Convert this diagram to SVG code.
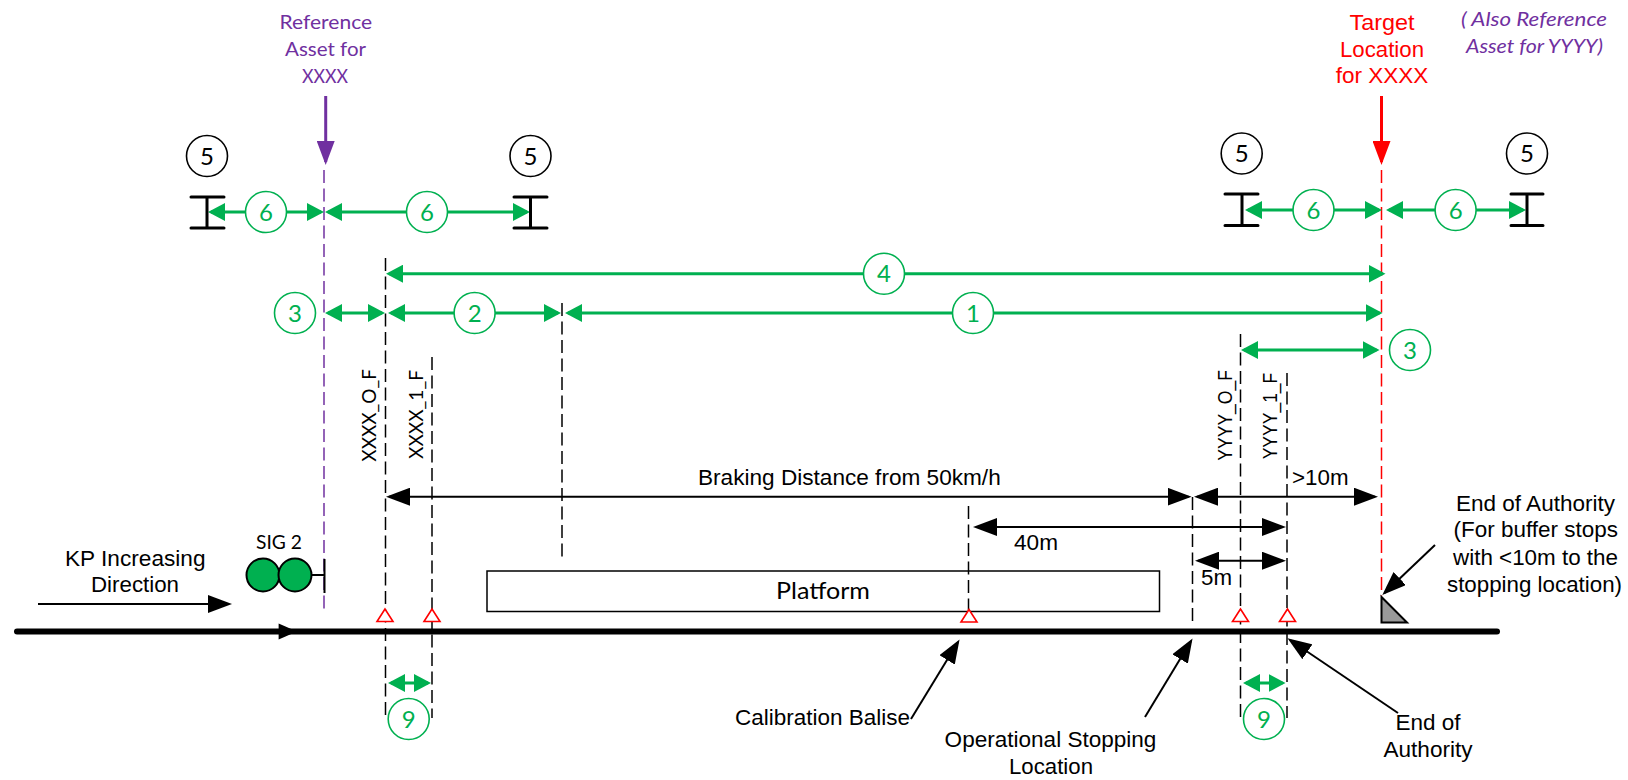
<svg xmlns="http://www.w3.org/2000/svg" width="1628" height="780" viewBox="0 0 1628 780">
<style>
.a{font-family:"Liberation Sans",Arial,sans-serif;font-size:22px;fill:#000}
.c{font-family:Lato,"Open Sans",sans-serif;font-size:20px}
.num{font-family:Lato,"Open Sans",sans-serif;font-size:24px;text-anchor:middle}
.gc{fill:#fff;stroke:#00B050;stroke-width:1.6}
.bc{fill:#fff;stroke:#000;stroke-width:1.6}
.gt{fill:#00B050}
.g{stroke:#00B050;stroke-width:3;fill:none;marker-start:url(#gh);marker-end:url(#gh)}
.b{stroke:#000;stroke-width:2;fill:none;marker-end:url(#bh)}
.bb{stroke:#000;stroke-width:2;fill:none;marker-start:url(#bh);marker-end:url(#bh)}
.d{stroke:#000;stroke-width:1.5;stroke-dasharray:13 5.5;fill:none}
.ibeam{stroke:#000;stroke-width:3;stroke-linecap:round;fill:none}
.bal{fill:#fff;stroke:#f00;stroke-width:1.6}
.pur{fill:#7030A0}
.red{fill:#f00}
</style>
<defs>
<marker id="gh" markerUnits="userSpaceOnUse" markerWidth="18" markerHeight="18" refX="14" refY="9" orient="auto-start-reverse"><path d="M0 0L17 9L0 18Z" fill="#00B050"/></marker>
<marker id="bh" markerUnits="userSpaceOnUse" markerWidth="24" markerHeight="18" refX="21" refY="9" orient="auto-start-reverse"><path d="M0 0L24 9L0 18Z" fill="#000"/></marker>
<marker id="ph" markerUnits="userSpaceOnUse" markerWidth="24" markerHeight="18" refX="21" refY="9" orient="auto"><path d="M0 0L24 9L0 18Z" fill="#7030A0"/></marker>
<marker id="rh" markerUnits="userSpaceOnUse" markerWidth="24" markerHeight="18" refX="21" refY="9" orient="auto"><path d="M0 0L24 9L0 18Z" fill="#f00"/></marker>
</defs>

<g id="platform">
<rect x="487" y="571" width="672.5" height="40.5" fill="#fff" stroke="#000" stroke-width="1.5"/>
<text class="c" x="776" y="598.5" style="font-size:23px" textLength="94" lengthAdjust="spacingAndGlyphs">Platform</text>
</g>

<g id="connectors">
<path class="d" d="M385.5 258V718M432 357V718M562 303V559M1240.5 334V718M1287 373V718M1192.5 497V624M968.5 506V610"/>
<path class="d" style="stroke:#7030A0" d="M324 170V613"/>
<path class="d" style="stroke:#f00" d="M1381.5 170V596"/>
<path d="M325.7 96V162" stroke="#7030A0" stroke-width="3" fill="none" marker-end="url(#ph)"/>
<path d="M1381.5 96V162" stroke="#f00" stroke-width="3" fill="none" marker-end="url(#rh)"/>

<path class="g" d="M211 212H321"/>
<path class="g" d="M328 212H527"/>
<path class="g" d="M1248 210H1379"/>
<path class="g" d="M1389 210H1523"/>
<path class="g" d="M389 273.7H1382.5"/>
<path class="g" d="M328 313H382"/>
<path class="g" d="M391 313H558"/>
<path class="g" d="M568 313H1379.5"/>
<path class="g" d="M1244 350H1376.5"/>
<path class="g" d="M391 683H428"/>
<path class="g" d="M1246 683H1282.5"/>

<path class="bb" d="M389 496.7H1188.6"/>
<path class="bb" d="M1197 496.7H1375"/>
<path class="bb" d="M976 527H1283"/>
<path class="bb" d="M1198 560.7H1283"/>
<path class="b" d="M38 604H229"/>
<path class="b" d="M1435 545L1384.5 593"/>
<path class="b" d="M1398 713L1290 640"/>
<path class="b" d="M1145 717L1191 641"/>
<path class="b" d="M911 719L958 642"/>
</g>

<g id="track">
<path d="M17 631.5H1497" stroke="#000" stroke-width="6" stroke-linecap="round" fill="none"/>
<path d="M278.6 623.5L297 631.5L278.6 639.5Z" fill="#000"/>
</g>

<g id="balises">
<path class="bal" d="M385 609L377 621.5H393Z"/>
<path class="bal" d="M432 609L424 621.5H440Z"/>
<path class="bal" d="M969 609.5L961 622H977Z"/>
<path class="bal" d="M1240.5 609L1232.5 621.5H1248.5Z"/>
<path class="bal" d="M1287.5 609L1279.5 621.5H1295.5Z"/>
</g>

<g id="buffer-stop"><path d="M1381.5 597V622.5H1407Z" fill="#999" stroke="#000" stroke-width="2"/></g>

<g id="signal">
<path d="M311 575H324.5M324.5 559V593" stroke="#000" stroke-width="2" fill="none"/>
<ellipse cx="263" cy="575" rx="16.5" ry="16.5" fill="#00B050" stroke="#000" stroke-width="2"/>
<ellipse cx="295" cy="575" rx="16.5" ry="16.5" fill="#00B050" stroke="#000" stroke-width="2"/>
<text class="c" x="256" y="549" textLength="46" lengthAdjust="spacingAndGlyphs" style="font-size:19px">SIG 2</text>
</g>

<g id="ibeams">
<path class="ibeam" d="M191 197H224M191 228H224M207 197V228"/>
<path class="ibeam" d="M514 197H547M514 228H547M530.5 197V228"/>
<path class="ibeam" d="M1225 194H1258M1225 225.5H1258M1242 194V225.5"/>
<path class="ibeam" d="M1511 194H1543M1511 225.5H1543M1527 194V225.5"/>
</g>

<g id="n5a"><circle class="bc" cx="207" cy="156" r="20.5"/><text class="num" x="207" y="164.5">5</text></g>
<g id="n5b"><circle class="bc" cx="530.5" cy="156" r="20.5"/><text class="num" x="530.5" y="164.5">5</text></g>
<g id="n5c"><circle class="bc" cx="1241.7" cy="153.5" r="20.5"/><text class="num" x="1241.7" y="162">5</text></g>
<g id="n5d"><circle class="bc" cx="1527" cy="153.5" r="20.5"/><text class="num" x="1527" y="162">5</text></g>

<g id="n6a"><circle class="gc" cx="266" cy="212" r="20.5"/><text class="num gt" x="266" y="220.5">6</text></g>
<g id="n6b"><circle class="gc" cx="427" cy="212" r="20.5"/><text class="num gt" x="427" y="220.5">6</text></g>
<g id="n6c"><circle class="gc" cx="1313.5" cy="210" r="20.5"/><text class="num gt" x="1313.5" y="218.5">6</text></g>
<g id="n6d"><circle class="gc" cx="1455.6" cy="210" r="20.5"/><text class="num gt" x="1455.6" y="218.5">6</text></g>
<g id="n4"><circle class="gc" cx="884" cy="273.7" r="20.5"/><text class="num gt" x="884" y="282">4</text></g>
<g id="n3a"><circle class="gc" cx="295" cy="313" r="20.5"/><text class="num gt" x="295" y="321.5">3</text></g>
<g id="n2"><circle class="gc" cx="474.6" cy="313" r="20.5"/><text class="num gt" x="474.6" y="321.5">2</text></g>
<g id="n1"><circle class="gc" cx="973" cy="313" r="20.5"/><text class="num gt" x="973" y="321.5">1</text></g>
<g id="n3b"><circle class="gc" cx="1410" cy="350" r="20.5"/><text class="num gt" x="1410" y="358.5">3</text></g>
<g id="n9a"><circle class="gc" cx="408.7" cy="719" r="20.5"/><text class="num gt" x="408.7" y="727.5">9</text></g>
<g id="n9b"><circle class="gc" cx="1264" cy="719" r="20.5"/><text class="num gt" x="1264" y="727.5">9</text></g>

<g id="label-reference">
<text class="c pur" x="279.5" y="29" textLength="92.6" lengthAdjust="spacingAndGlyphs">Reference</text>
<text class="c pur" x="285" y="56" textLength="81" lengthAdjust="spacingAndGlyphs">Asset for</text>
<text class="c pur" x="302" y="83" textLength="46" lengthAdjust="spacingAndGlyphs">XXXX</text>
</g>
<g id="label-target">
<text class="a red" x="1349.5" y="30" textLength="65" lengthAdjust="spacingAndGlyphs">Target</text>
<text class="a red" x="1340" y="56.7" textLength="84" lengthAdjust="spacingAndGlyphs">Location</text>
<text class="a red" x="1335.7" y="83" textLength="92.6" lengthAdjust="spacingAndGlyphs">for XXXX</text>
</g>
<g id="label-also">
<text class="c pur" font-style="italic" x="1461" y="26" textLength="146" lengthAdjust="spacingAndGlyphs">( Also Reference</text>
<text class="c pur" font-style="italic" x="1466" y="52.7" textLength="137" lengthAdjust="spacingAndGlyphs">Asset for YYYY)</text>
</g>

<g id="vertical-labels">
<text class="c" transform="translate(376 461.7) rotate(-90)" textLength="92.7" lengthAdjust="spacingAndGlyphs">XXXX_O_F</text>
<text class="c" transform="translate(422.7 459) rotate(-90)" textLength="89" lengthAdjust="spacingAndGlyphs">XXXX_1_F</text>
<text class="a" transform="translate(1231.7 460.7) rotate(-90)" textLength="90.7" lengthAdjust="spacingAndGlyphs" style="font-size:20px">YYYY_O_F</text>
<text class="a" transform="translate(1277 459.3) rotate(-90)" textLength="86.6" lengthAdjust="spacingAndGlyphs" style="font-size:20px">YYYY_1_F</text>
</g>

<g id="labels">
<text class="a" x="698" y="484.5" textLength="302.7" lengthAdjust="spacingAndGlyphs">Braking Distance from 50km/h</text>
<text class="a" x="1292" y="485.2" textLength="56.5" lengthAdjust="spacingAndGlyphs">&gt;10m</text>
<text class="a" x="1014" y="550.2" textLength="44" lengthAdjust="spacingAndGlyphs">40m</text>
<text class="a" x="1201" y="585.2" textLength="31" lengthAdjust="spacingAndGlyphs">5m</text>
<text class="a" x="65" y="565.5" textLength="140.5" lengthAdjust="spacingAndGlyphs">KP Increasing</text>
<text class="a" x="91" y="592.2" textLength="88" lengthAdjust="spacingAndGlyphs">Direction</text>
<text class="a" x="735" y="725.2" textLength="175" lengthAdjust="spacingAndGlyphs">Calibration Balise</text>
<text class="a" x="944.6" y="746.5" textLength="211.8" lengthAdjust="spacingAndGlyphs">Operational Stopping</text>
<text class="a" x="1009" y="773.5" textLength="84" lengthAdjust="spacingAndGlyphs">Location</text>
<text class="a" x="1395.5" y="729.5" textLength="65" lengthAdjust="spacingAndGlyphs">End of</text>
<text class="a" x="1383.5" y="756.5" textLength="89" lengthAdjust="spacingAndGlyphs">Authority</text>
<text class="a" x="1456" y="510.5" textLength="159" lengthAdjust="spacingAndGlyphs">End of Authority</text>
<text class="a" x="1453.6" y="537" textLength="164.4" lengthAdjust="spacingAndGlyphs">(For buffer stops</text>
<text class="a" x="1453" y="565.2" textLength="165" lengthAdjust="spacingAndGlyphs">with &lt;10m to the</text>
<text class="a" x="1447" y="592" textLength="175" lengthAdjust="spacingAndGlyphs">stopping location)</text>
</g>
</svg>
